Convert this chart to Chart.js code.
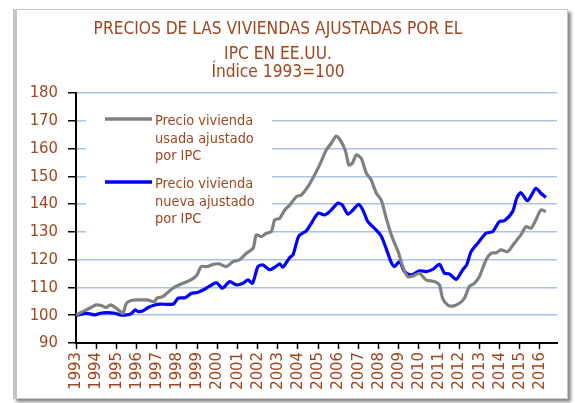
<!DOCTYPE html>
<html>
<head>
<meta charset="utf-8">
<script src="https://cdn.jsdelivr.net/npm/chart.js@4.4.1/dist/chart.umd.min.js"></script>
<style>
  html, body { margin: 0; padding: 0; background: #ffffff; }
  #frame { position: absolute; left: 13px; top: 9px; width: 550px; height: 388px;
           border: 1px solid #c8c8c8; border-left: 4px solid #c4c4c4;
           box-shadow: 3px 3px 3px #8a8a8a; background: #ffffff; }
  #wrap { position: absolute; left: 0; top: 0; width: 575px; height: 403px; }
</style>
</head>
<body>
<div id="frame"></div>
<div id="wrap"><canvas id="c" width="575" height="403"></canvas></div>
<script>
// ---- data ----
const titleLines = ['PRECIOS DE LAS VIVIENDAS AJUSTADAS POR EL', 'IPC EN EE.UU.'];
const subtitleText = 'Índice 1993=100';
const seriesNames = [['Precio vivienda', 'usada ajustado', 'por IPC'], ['Precio vivienda', 'nueva ajustado', 'por IPC']];

const yearTicks = [1993,1994,1995,1996,1997,1998,1999,2000,2001,2002,2003,2004,2005,2006,2007,2008,2009,2010,2011,2012,2013,2014,2015,2016];
const yearLabels = ['1993','1994','1995','1996','1997','1998','1999','2000','2001','2002','2003','2004','2005','2006','2007','2008','2009','2010','2011','2012','2013','2014','2015','2016'];
const yTicks = [90,100,110,120,130,140,150,160,170,180];

const usedTime = [1993.0,1993.25,1993.5,1993.75,1994.0,1994.25,1994.5,1994.7,1995.0,1995.2,1995.33,1995.5,1995.7,1996.0,1996.5,1996.9,1997.0,1997.3,1997.5,1997.8,1998.0,1998.3,1998.7,1999.0,1999.2,1999.5,1999.8,2000.1,2000.45,2000.79,2001.1,2001.45,2001.78,2001.94,2002.19,2002.44,2002.69,2002.85,2003.1,2003.35,2003.6,2003.93,2004.17,2004.5,2004.83,2005.08,2005.41,2005.66,2005.9,2006.15,2006.37,2006.53,2006.7,2006.9,2007.14,2007.4,2007.64,2007.89,2008.13,2008.38,2008.63,2008.88,2009.0,2009.2,2009.45,2009.7,2010.03,2010.36,2010.77,2011.02,2011.18,2011.43,2011.68,2012.01,2012.26,2012.5,2012.75,2013.0,2013.33,2013.58,2013.83,2014.07,2014.4,2014.73,2015.06,2015.31,2015.56,2015.8,2016.05,2016.3];
const usedIndex = [100,101,101.9,102.8,103.7,103.5,102.8,103.7,102.5,101.3,100.7,104.3,105.2,105.5,105.5,104.9,106.1,106.7,107.9,109.7,110.5,111.5,112.7,114.5,117.5,117.5,118.3,118.5,117.5,119.3,119.9,122.3,124.1,128.9,128.3,129.5,130.1,134.3,134.9,137.9,139.7,142.7,143.3,146.3,150.5,154.1,159.5,161.9,164.5,162.5,158.9,154.1,154.7,157.7,156.5,151.1,148.7,143.9,141.5,135,129,124.5,122.3,117.5,113.9,114.1,115.1,112.7,112.1,110.9,106.1,103.7,103.3,104.3,106.1,110.3,111.5,113.9,119.9,122.3,122.5,123.5,122.9,125.9,128.9,131.9,131.3,134.3,137.9,137.3];

const newTime = [1993.0,1993.53,1993.94,1994.2,1994.52,1994.93,1995.18,1995.5,1995.76,1995.92,1996.09,1996.33,1996.58,1996.91,1997.16,1997.82,1998.06,1998.4,1998.73,1998.97,1999.3,1999.63,1999.97,2000.26,2000.62,2000.96,2001.28,2001.53,2001.75,2002.02,2002.27,2002.6,2002.94,2003.1,2003.26,2003.6,2003.76,2004.05,2004.42,2004.67,2005.0,2005.33,2005.66,2005.98,2006.2,2006.48,2006.73,2007.02,2007.22,2007.47,2007.8,2008.13,2008.38,2008.63,2008.79,2009.04,2009.29,2009.62,2010.03,2010.36,2010.69,2011.02,2011.27,2011.51,2011.85,2012.17,2012.37,2012.59,2012.92,2013.33,2013.66,2013.99,2014.24,2014.65,2014.85,2015.06,2015.39,2015.8,2016.05,2016.3];
const newIndex = [100,100.7,100.1,100.7,100.9,100.7,100.1,100.1,100.7,101.9,101.3,101.6,102.8,103.7,104.0,104.0,106.1,106.3,107.9,108.1,109.1,110.5,111.7,109.7,112.1,110.9,111.5,112.7,111.5,117.5,118.1,116.4,117.7,118.5,117.3,120.8,121.7,128.5,130.4,133.1,136.7,136.1,137.9,140.3,139.7,136.4,137.9,139.9,137.9,133.7,131.3,128.5,124,119,117.5,119.3,115.7,114.5,116.0,115.7,116.5,118.3,115.1,114.9,112.9,116.3,118.1,122.9,125.9,129.5,130.1,133.7,134.0,137.3,142.1,144.1,141.2,145.7,143.9,142.4];

const seriesColors = ['#808080', '#0000ff'];
const textColor = '#a0461e';
const fontFam = '"DejaVu Sans Condensed", "DejaVu Sans", sans-serif';

const toPoints = (xs, ys) => xs.map((x, i) => ({x: x, y: ys[i]}));

const titlePlugin = {
  id: 'titleText',
  afterDraw(chart) {
    const ctx = chart.ctx;
    ctx.save();
    ctx.fillStyle = textColor;
    ctx.textAlign = 'center';
    ctx.textBaseline = 'middle';
    ctx.font = '17.2px ' + fontFam;
    ctx.fillText(titleLines[0], 278, 30);
    ctx.fillText(titleLines[1], 278, 55);
    ctx.fillText(subtitleText, 278, 72.5);
    ctx.restore();
  }
};

const legendPlugin = {
  id: 'boxLegend',
  beforeDatasetsDraw(chart) {
    const ctx = chart.ctx;
    ctx.save();
    ctx.fillStyle = '#ffffff';
    ctx.fillRect(86, 100, 186, 138);
    const groups = [{lineY: 119, textY: [121, 139, 156]}, {lineY: 182, textY: [184, 202, 219]}];
    groups.forEach((g, i) => {
      ctx.strokeStyle = seriesColors[i];
      ctx.lineWidth = 3.5;
      ctx.beginPath();
      ctx.moveTo(105, g.lineY);
      ctx.lineTo(152, g.lineY);
      ctx.stroke();
      ctx.fillStyle = textColor;
      ctx.font = '14.4px ' + fontFam;
      ctx.textAlign = 'left';
      ctx.textBaseline = 'middle';
      seriesNames[i].forEach((t, k) => ctx.fillText(t, 155, g.textY[k]));
    });
    ctx.restore();
  }
};

new Chart(document.getElementById('c'), {
  type: 'line',
  data: {
    datasets: [
      { label: seriesNames[0].join(' '), data: toPoints(usedTime, usedIndex), borderColor: seriesColors[0], borderWidth: 3.2, pointRadius: 0, tension: 0.25, fill: false },
      { label: seriesNames[1].join(' '), data: toPoints(newTime, newIndex), borderColor: seriesColors[1], borderWidth: 3.2, pointRadius: 0, tension: 0.25, fill: false }
    ]
  },
  options: {
    responsive: false,
    animation: false,
    devicePixelRatio: 1,
    layout: { padding: { top: 93, right: 18, bottom: 0, left: 0 } },
    plugins: { legend: { display: false }, title: { display: false }, tooltip: { enabled: false } },
    scales: {
      x: {
        type: 'linear',
        min: 1993,
        max: 2016.85,
        afterBuildTicks(scale) { scale.ticks = yearTicks.map(v => ({value: v})); },
        afterFit(scale) { scale.height = 60; },
        ticks: {
          autoSkip: false, maxRotation: 90, minRotation: 90, padding: 3,
          color: textColor, font: { family: fontFam, size: 16.5 },
          callback: (v) => yearLabels[yearTicks.indexOf(v)]
        },
        grid: { drawOnChartArea: false, drawTicks: true, tickLength: 6, tickColor: '#000000', tickWidth: 1.5 },
        border: { color: '#000000', width: 2 }
      },
      y: {
        min: 90, max: 180,
        afterBuildTicks(scale) { scale.ticks = yTicks.map(v => ({value: v})); },
        afterFit(scale) { scale.width = 76; },
        ticks: { padding: 10, color: textColor, font: { family: fontFam, size: 16.5 } },
        grid: { color: '#a9c2e8', lineWidth: 1.5, tickLength: 8, tickColor: '#000000', tickWidth: 1.5 },
        border: { color: '#000000', width: 2 }
      }
    }
  },
  plugins: [legendPlugin, titlePlugin]
});
</script>
</body>
</html>
